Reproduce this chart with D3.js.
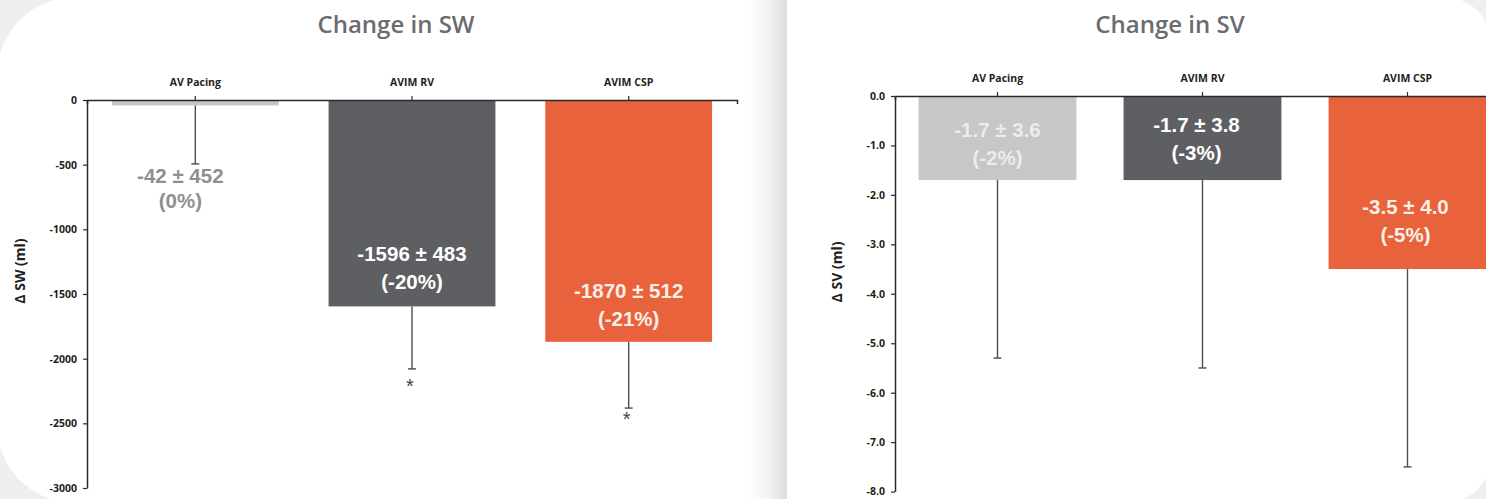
<!DOCTYPE html>
<html>
<head>
<meta charset="utf-8">
<script src="https://cdn.jsdelivr.net/npm/d3@7"></script>
<style>
  html, body { margin: 0; padding: 0; background: #ffffff; }
  svg { display: block; }
</style>
</head>
<body>
<svg id="chart" width="1486" height="499"></svg>
<script>
// ---- data ----
const categories = ["AV Pacing", "AVIM RV", "AVIM CSP"];

const swMean = [-42, -1596, -1870];
const swSD = [452, 483, 512];
const swPct = ["0%", "-20%", "-21%"];
const swSignificant = [false, true, true];
const swTicks = [0, -500, -1000, -1500, -2000, -2500, -3000];

const svMean = [-1.7, -1.7, -3.5];
const svSD = [3.6, 3.8, 4.0];
const svPct = ["-2%", "-3%", "-5%"];
const svSignificant = [false, false, false];
const svTicks = [0, -1, -2, -3, -4, -5, -6, -7, -8];

// ---- styles ----
const barColors = ["#c7c7c7", "#5e5f62", "#e8633b"];
const labelColors = ["#8f8f8f", "#ffffff", "#fbefe9"];
const innerLightLabel = "#ececec";

const svg = d3.select("#chart");
const W = 1486, H = 499;

// ---- slide backdrop: two white panels on a pale grey ground ----
const defs = svg.append("defs");
const gap = defs.append("linearGradient").attr("id", "gapShade")
  .attr("x1", "0").attr("x2", "1").attr("y1", "0").attr("y2", "0");
gap.append("stop").attr("offset", "0").attr("stop-color", "#ffffff");
gap.append("stop").attr("offset", "0.55").attr("stop-color", "#f2f2f2");
gap.append("stop").attr("offset", "1").attr("stop-color", "#dcdcdc");

svg.append("rect").attr("width", W).attr("height", H).attr("fill", "#efefef");

// left panel: rounded on its left side only
function panelPath(x0, x1, y0, y1, rl, rr) {
  const p = d3.path();
  p.moveTo(x0 + rl, y0);
  p.lineTo(x1 - rr, y0);
  if (rr) p.arcTo(x1, y0, x1, y0 + rr, rr); else p.lineTo(x1, y0);
  p.lineTo(x1, y1 - rr);
  if (rr) p.arcTo(x1, y1, x1 - rr, y1, rr); else p.lineTo(x1, y1);
  p.lineTo(x0 + rl, y1);
  if (rl) p.arcTo(x0, y1, x0, y1 - rl, rl); else p.lineTo(x0, y1);
  p.lineTo(x0, y0 + rl);
  if (rl) p.arcTo(x0, y0, x0 + rl, y0, rl); else p.lineTo(x0, y0);
  p.closePath();
  return p.toString();
}
svg.append("path").attr("d", panelPath(-3, 787, -3, 503, 78, 0)).attr("fill", "#ffffff");
svg.append("rect").attr("x", 748).attr("y", 0).attr("width", 39).attr("height", H)
  .attr("fill", "url(#gapShade)");
svg.append("path").attr("d", panelPath(787, 1492, -3, 503, 0, 48)).attr("fill", "#ffffff");

// ---- one bar panel ----
function drawPanel(cfg) {
  const g = svg.append("g");

  const x = d3.scaleBand().domain(categories).range(cfg.xRange)
    .paddingInner(0.23).paddingOuter(0.115);
  const y = d3.scaleLinear().domain(cfg.yDomain).range(cfg.yRange);

  // title
  g.append("text")
    .attr("x", cfg.titleX).attr("y", 33)
    .attr("text-anchor", "middle")
    .attr("font-family", "'Open Sans', sans-serif")
    .attr("font-weight", 600).attr("font-size", 24)
    .attr("fill", "#6b6c6f")
    .text(cfg.title);

  // y-axis title
  g.append("text")
    .attr("transform", `translate(${cfg.yTitleX},${cfg.yTitleY}) rotate(-90)`)
    .attr("text-anchor", "middle")
    .attr("font-family", "'Open Sans', sans-serif")
    .attr("font-weight", 700).attr("font-size", 14)
    .attr("fill", "#1e1e1e")
    .text(cfg.yTitle);

  const rows = categories.map((c, i) => ({
    c, i, mean: cfg.mean[i], sd: cfg.sd[i], pct: cfg.pct[i], sig: cfg.sig[i]
  }));

  // bars
  g.selectAll("rect.bar").data(rows).join("rect")
    .attr("class", "bar")
    .attr("x", d => x(d.c))
    .attr("y", y(0))
    .attr("width", x.bandwidth())
    .attr("height", d => y(d.mean) - y(0))
    .attr("fill", d => barColors[d.i]);

  // error bars (downward, mean - SD)
  const cx = d => x(d.c) + x.bandwidth() / 2;
  const eb = g.selectAll("g.err").data(rows).join("g").attr("class", "err")
    .attr("stroke", "#4d4d4f").attr("stroke-width", 1.4);
  eb.append("line")
    .attr("x1", cx).attr("x2", cx)
    .attr("y1", d => y(d.mean)).attr("y2", d => y(d.mean - d.sd));
  eb.append("line")
    .attr("x1", d => cx(d) - 4).attr("x2", d => cx(d) + 4)
    .attr("y1", d => y(d.mean - d.sd)).attr("y2", d => y(d.mean - d.sd));

  // significance markers
  g.selectAll("text.sig").data(rows.filter(d => d.sig)).join("text")
    .attr("class", "sig")
    .attr("x", d => cx(d) - 2)
    .attr("y", d => y(d.mean - d.sd) + cfg.layout[d.i].sigGap)
    .attr("text-anchor", "middle")
    .attr("font-family", "'Liberation Sans', Arial, sans-serif")
    .attr("font-size", 20)
    .attr("fill", "#3b4652")
    .text("*");

  // value labels
  const lab = g.selectAll("text.val").data(rows).join("text")
    .attr("class", "val")
    .attr("text-anchor", "middle")
    .attr("font-family", "'Liberation Sans', Arial, sans-serif")
    .attr("font-weight", 700).attr("font-size", 20.5)
    .attr("fill", d => cfg.layout[d.i].below ? labelColors[0]
      : (d.i === 0 ? innerLightLabel : labelColors[d.i]));
  lab.each(function (d) {
    const L = cfg.layout[d.i];
    const t = d3.select(this);
    const x0 = cx(d) + (L.dx || 0);
    let first, second;
    if (L.below) {
      first = y(d.mean - d.sd) + 19;
      second = first + 25;
    } else {
      second = y(d.mean) - L.lift;
      first = second - 28;
    }
    t.append("tspan").attr("x", x0).attr("y", first)
      .text(`${cfg.fmt(d.mean)} ± ${cfg.fmt(d.sd)}`);
    t.append("tspan").attr("x", x0).attr("y", second)
      .text(`(${d.pct})`);
  });

  // category axis along the zero line
  const xAxis = g.append("g")
    .attr("transform", `translate(0,${y(0)})`)
    .call(d3.axisTop(x).tickSize(4).tickSizeOuter(-4).tickPadding(10));
  xAxis.select(".domain").attr("stroke", "#2a2a2a").attr("stroke-width", 1.5);
  xAxis.selectAll(".tick line").attr("stroke", "#2a2a2a").attr("stroke-width", 1.2);
  xAxis.selectAll(".tick text")
    .attr("font-family", "'Open Sans', sans-serif")
    .attr("font-weight", 700).attr("font-size", 10.5)
    .attr("fill", "#1e1e1e");

  // value axis
  const yAxis = g.append("g")
    .attr("transform", `translate(${cfg.xRange[0]},0)`)
    .call(d3.axisLeft(y).tickValues(cfg.ticks).tickSize(4).tickSizeOuter(0)
      .tickPadding(6).tickFormat(cfg.tickFmt));
  yAxis.select(".domain").attr("stroke", "#2a2a2a").attr("stroke-width", 1.5);
  yAxis.selectAll(".tick line").attr("stroke", "#2a2a2a").attr("stroke-width", 1.2);
  yAxis.selectAll(".tick text")
    .attr("font-family", "'Open Sans', sans-serif")
    .attr("font-weight", 700).attr("font-size", 10.5)
    .attr("fill", "#1e1e1e");
}

drawPanel({
  title: "Change in SW", titleX: 396,
  yTitle: "Δ SW (ml)", yTitleX: 25, yTitleY: 271,
  xRange: [87, 737], yDomain: [0, -3000], yRange: [100, 488],
  ticks: swTicks, tickFmt: d => String(d),
  mean: swMean, sd: swSD, pct: swPct, sig: swSignificant,
  fmt: v => String(v),
  layout: [
    { below: true, dx: -15 },
    { lift: 17, sigGap: 24 },
    { lift: 16, sigGap: 18 }
  ]
});

drawPanel({
  title: "Change in SV", titleX: 1170,
  yTitle: "Δ SV (ml)", yTitleX: 842, yTitleY: 272,
  xRange: [895, 1510], yDomain: [0, -8], yRange: [96, 491.6],
  ticks: svTicks, tickFmt: d => d.toFixed(1),
  mean: svMean, sd: svSD, pct: svPct, sig: svSignificant,
  fmt: v => v.toFixed(1),
  layout: [
    { lift: 15 },
    { lift: 20, dx: -6 },
    { lift: 27, dx: -2 }
  ]
});
</script>
</body>
</html>
